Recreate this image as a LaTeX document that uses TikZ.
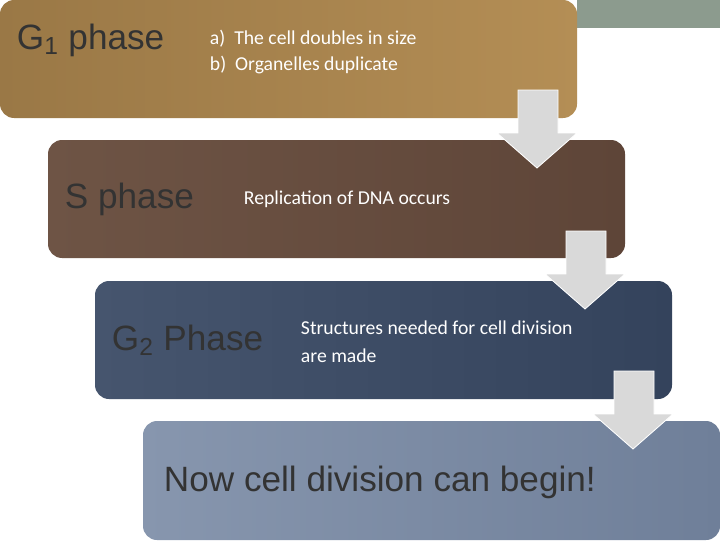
\documentclass[tikz,border=0pt]{standalone}
\usepackage{fontspec}
\setmainfont{Liberation Sans}
\newfontfamily\bodyfont{Carlito}
\usetikzlibrary{positioning}
\usetikzlibrary{shapes.arrows}
\definecolor{goldA}{HTML}{9A7846}
\definecolor{goldB}{HTML}{B48E55}
\definecolor{brownA}{HTML}{6E5445}
\definecolor{brownB}{HTML}{5E4538}
\definecolor{blueA}{HTML}{46556E}
\definecolor{blueB}{HTML}{34435C}
\definecolor{greyA}{HTML}{8796AE}
\definecolor{greyB}{HTML}{6F7F99}
\definecolor{barcol}{HTML}{8C9B8E}
\definecolor{arrcol}{HTML}{D9D9D9}
\tikzset{
  phasebox/.style={rounded corners=10pt, draw=none},
  phasetitle/.style={anchor=west, text=black!80, font=\fontsize{25}{28}\selectfont},
  phasetext/.style={anchor=west, text=white, align=left, font=\bodyfont\fontsize{14}{20}\selectfont},
  downarrow/.style={fill=arrcol, draw=white, line width=0.6pt}
}
\begin{document}
\begin{tikzpicture}[x=0.025cm, y=-0.025cm]
\useasboundingbox (0,0) rectangle (720,540);
\fill[white] (0,0) rectangle (720,540);
\fill[barcol] (577,0) rectangle (720,28);

% boxes
\shade[phasebox, left color=goldA, right color=goldB] (0,0) rectangle (577,118);
\shade[phasebox, left color=brownA, right color=brownB] (48,140) rectangle (625,258);
\shade[phasebox, left color=blueA, right color=blueB] (95,281) rectangle (672,399);
\shade[phasebox, left color=greyA, right color=greyB] (143,421) rectangle (720,540);

% arrows
\foreach \dx/\dy in {0/0, 48/141, 96/281} {
  \draw[downarrow] (518+\dx,90+\dy) -- (558+\dx,90+\dy) -- (558+\dx,133+\dy) -- (577+\dx,133+\dy)
    -- (537+\dx,168+\dy) -- (497+\dx,133+\dy) -- (518+\dx,133+\dy) -- cycle;
}

% texts
\node[phasetitle] (g1) at (12,40) {G\textsubscript{1} phase};
\node[phasetext, font=\bodyfont\fontsize{14}{19}\selectfont] (g1txt) at (205,52) {a)\ \ The cell doubles in size\\b)\ \ Organelles duplicate};
\node[phasetitle] (sph) at (60,199) {S phase};
\node[phasetext] (stxt) at (239,199) {Replication of DNA occurs};
\node[phasetitle] (g2) at (107,340) {G\textsubscript{2} Phase};
\node[phasetext] (g2txt) at (296,342) {Structures needed for cell division\\are made};
\node[phasetitle] (now) at (159,482) {Now cell division can begin!};
\end{tikzpicture}
\end{document}
